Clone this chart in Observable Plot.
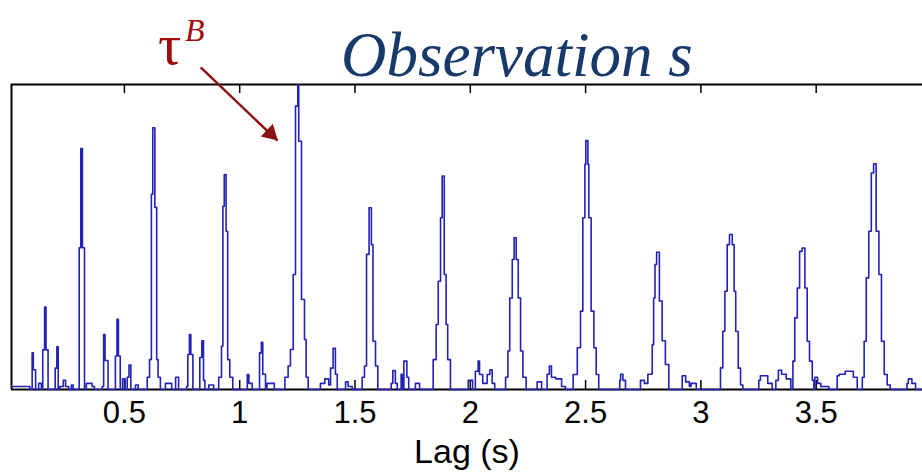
<!DOCTYPE html>
<html>
<head>
<meta charset="utf-8">
<script src="https://cdn.jsdelivr.net/npm/d3@7"></script>
<script src="https://cdn.jsdelivr.net/npm/@observablehq/plot@0.6"></script>
<style>
  html, body { margin: 0; padding: 0; background: #fff; overflow: hidden; }
  #chart { position: relative; width: 922px; height: 476px; }
  .note { position: absolute; white-space: nowrap; line-height: 1; font-family: "Liberation Serif", "Times New Roman", serif; }
  #title { left: 341px; top: 24px; font-size: 63px; font-style: italic; color: #173a6b; }
  #tau { left: 158px; top: 16px; font-size: 58px; color: #a10d0d; }
  #tauSup { left: 185px; top: 14px; font-size: 32px; font-style: italic; color: #a10d0d; }
</style>
</head>
<body>
<div id="chart"></div>
<script>
// Autocorrelation of observation s against lag (seconds).
// Level changes of the staircase trace: each value holds until the next lag.
const lag = [
  0.011, 0.090,
  0.100, 0.105, 0.115,
  0.128, 0.140,
  0.146, 0.154, 0.160, 0.169,
  0.200, 0.207, 0.213,
  0.220, 0.235, 0.245, 0.258,
  0.270, 0.278,
  0.304, 0.311, 0.318, 0.327,
  0.335, 0.360, 0.370,
  0.404, 0.410, 0.416, 0.429,
  0.461, 0.468, 0.474, 0.482,
  0.492, 0.503,
  0.512, 0.520, 0.528,
  0.548, 0.560,
  0.599, 0.609, 0.617, 0.623, 0.632, 0.640, 0.646, 0.656,
  0.678, 0.705,
  0.722, 0.735,
  0.770, 0.775, 0.782, 0.788, 0.797,
  0.827, 0.836, 0.843, 0.849,
  0.866, 0.887,
  0.909, 0.921, 0.927, 0.933, 0.941, 0.948, 0.957, 0.970,
  1.033, 1.040, 1.054,
  1.086, 1.094, 1.100, 1.112,
  1.118, 1.150,
  1.196, 1.210, 1.220, 1.232, 1.242, 1.252, 1.256, 1.268, 1.281, 1.288, 1.297,
  1.350, 1.369, 1.386, 1.394, 1.405, 1.415, 1.423,
  1.459, 1.470, 1.488,
  1.531, 1.541, 1.550, 1.561, 1.571, 1.578, 1.589, 1.599,
  1.657, 1.664, 1.675, 1.683,
  1.700, 1.705, 1.712, 1.725, 1.733,
  1.762, 1.780,
  1.839, 1.852, 1.861, 1.871, 1.878, 1.887, 1.895, 1.902, 1.914,
  1.991, 2.010, 2.022, 2.034, 2.040, 2.054, 2.073, 2.085, 2.095, 2.106,
  2.153, 2.163, 2.171, 2.182, 2.190, 2.199, 2.208, 2.218, 2.228, 2.242,
  2.290, 2.309,
  2.333, 2.343, 2.352, 2.370, 2.396, 2.413,
  2.446, 2.464, 2.478, 2.488, 2.497, 2.501, 2.510, 2.514, 2.524, 2.536, 2.546, 2.557,
  2.648, 2.652, 2.662, 2.673,
  2.738, 2.755, 2.770, 2.789, 2.795, 2.801, 2.808, 2.820, 2.832, 2.846, 2.861,
  2.919, 2.934, 2.950, 2.957, 2.980,
  3.085, 3.095, 3.104, 3.114, 3.124, 3.136, 3.144, 3.151, 3.162, 3.172, 3.182,
  3.251, 3.258, 3.290, 3.309,
  3.325, 3.336, 3.350, 3.370, 3.390,
  3.399, 3.407, 3.418, 3.428, 3.439, 3.451, 3.461, 3.471, 3.483, 3.490,
  3.494, 3.506, 3.520, 3.555,
  3.591, 3.600, 3.626, 3.661, 3.678,
  3.700, 3.708, 3.717, 3.728, 3.739, 3.749, 3.760, 3.772, 3.783, 3.795, 3.808, 3.821,
  3.894, 3.900, 3.915, 3.931, 3.961
];
const acf = [
  0.010, 0,
  0.120, 0.065, 0,
  0.020, 0,
  0.130, 0.270, 0.130, 0,
  0.070, 0.140, 0,
  0.010, 0.030, 0.010, 0,
  0.015, 0,
  0.465, 0.790, 0.465, 0,
  0.020, 0.010, 0,
  0.010, 0.180, 0.095, 0,
  0.110, 0.230, 0.110, 0,
  0.035, 0,
  0.040, 0.080, 0,
  0.015, 0,
  0.040, 0.098, 0.640, 0.858, 0.597, 0.098, 0.040, 0,
  0.020, 0,
  0.040, 0,
  0.010, 0.115, 0.180, 0.115, 0,
  0.105, 0.160, 0.030, 0,
  0.015, 0,
  0.040, 0.142, 0.601, 0.705, 0.519, 0.098, 0.040, 0,
  0.049, 0.020, 0,
  0.120, 0.155, 0.050, 0,
  0.020, 0,
  0.040, 0.077, 0.131, 0.377, 0.929, 1.000, 0.814, 0.295, 0.164, 0.040, 0,
  0.020, 0.035, 0.015, 0.070, 0.135, 0.050, 0,
  0.025, 0.010, 0,
  0.040, 0.077, 0.443, 0.596, 0.475, 0.158, 0.077, 0,
  0.020, 0.062, 0.020, 0,
  0.050, 0, 0.093, 0.040, 0,
  0.020, 0,
  0.098, 0.213, 0.355, 0.563, 0.700, 0.377, 0.213, 0.098, 0,
  0.030, 0, 0.060, 0.093, 0.049, 0.020, 0.049, 0.065, 0.020, 0,
  0.040, 0.126, 0.300, 0.426, 0.497, 0.426, 0.300, 0.126, 0.040, 0,
  0.025, 0,
  0.050, 0.077, 0.040, 0.035, 0.010, 0,
  0.049, 0.137, 0.257, 0.563, 0.738, 0.816, 0.738, 0.563, 0.257, 0.137, 0.049, 0,
  0.030, 0.050, 0.030, 0,
  0.030, 0.020, 0.050, 0.147, 0.300, 0.410, 0.450, 0.290, 0.160, 0.082, 0,
  0.045, 0.025, 0.010, 0.020, 0,
  0.071, 0.191, 0.322, 0.475, 0.508, 0.475, 0.322, 0.190, 0.070, 0.015, 0,
  0.030, 0.045, 0.020, 0,
  0.030, 0.063, 0.050, 0.035, 0,
  0.093, 0.235, 0.333, 0.453, 0.464, 0.333, 0.158, 0.093, 0.030, 0,
  0.040, 0.020, 0.010, 0,
  0.045, 0.050, 0.060, 0.040, 0,
  0.040, 0.158, 0.366, 0.519, 0.710, 0.740, 0.519, 0.377, 0.158, 0.049, 0.015, 0,
  0.020, 0.035, 0.020, 0, 0
];

const xTicks = [0.5, 1, 1.5, 2, 2.5, 3, 3.5];
const xLabel = "Lag (s)";
const titleText = "Observation s";
const peakSymbol = "\u03c4";
const peakSup = "B";

// Annotation arrow pointing at the τ^B peak (data coordinates: lag, acf)
const arrowFrom = [0.831, 1.056];
const arrowTo = [1.164, 0.816];

const series = lag.map((t, i) => ({lag: t, acf: acf[i]}));

const chart = Plot.plot({
  width: 922,
  height: 476,
  marginLeft: 11,
  marginRight: 0,
  marginTop: 84,
  marginBottom: 87,
  style: {background: "transparent", fontFamily: "Liberation Sans, Arial, sans-serif", fontSize: "31px", color: "#000"},
  x: {domain: [0.0104, 3.961], ticks: xTicks, tickSize: 0, tickPadding: 11, label: null, tickFormat: d => String(d)},
  y: {domain: [0, 1], axis: null},
  marks: [
    Plot.ruleY([0, 1], {stroke: "#000", strokeWidth: 2}),
    Plot.ruleX([0.0104], {stroke: "#000", strokeWidth: 2}),
    Plot.ruleX(xTicks, {insetTop: 296, stroke: "#000", strokeWidth: 1.5}),
    Plot.ruleX(xTicks, {insetBottom: 296, stroke: "#000", strokeWidth: 1.5}),
    Plot.line(series, {x: "lag", y: "acf", curve: "step-after", stroke: "#2222b4", strokeWidth: 1.6}),
    Plot.text([xLabel], {frameAnchor: "bottom", dy: 73, fontSize: 34, fill: "#000"}),
    Plot.link([{x1: arrowFrom[0], y1: arrowFrom[1], x2: arrowTo[0], y2: arrowTo[1]}],
      {x1: "x1", y1: "y1", x2: "x2", y2: "y2", stroke: "#8b1212", strokeWidth: 2.5}),
    Plot.dot([{x: arrowTo[0], y: arrowTo[1]}],
      {x: "x", y: "y", symbol: "triangle", r: 6.5, fill: "#8b1212", stroke: "none", rotate: 133.5, dx: -7, dy: -7})
  ]
});

const root = document.getElementById("chart");
root.appendChild(chart);

for (const [id, text] of [["title", titleText], ["tau", peakSymbol], ["tauSup", peakSup]]) {
  const el = document.createElement("div");
  el.id = id;
  el.className = "note";
  el.textContent = text;
  root.appendChild(el);
}
</script>
</body>
</html>
